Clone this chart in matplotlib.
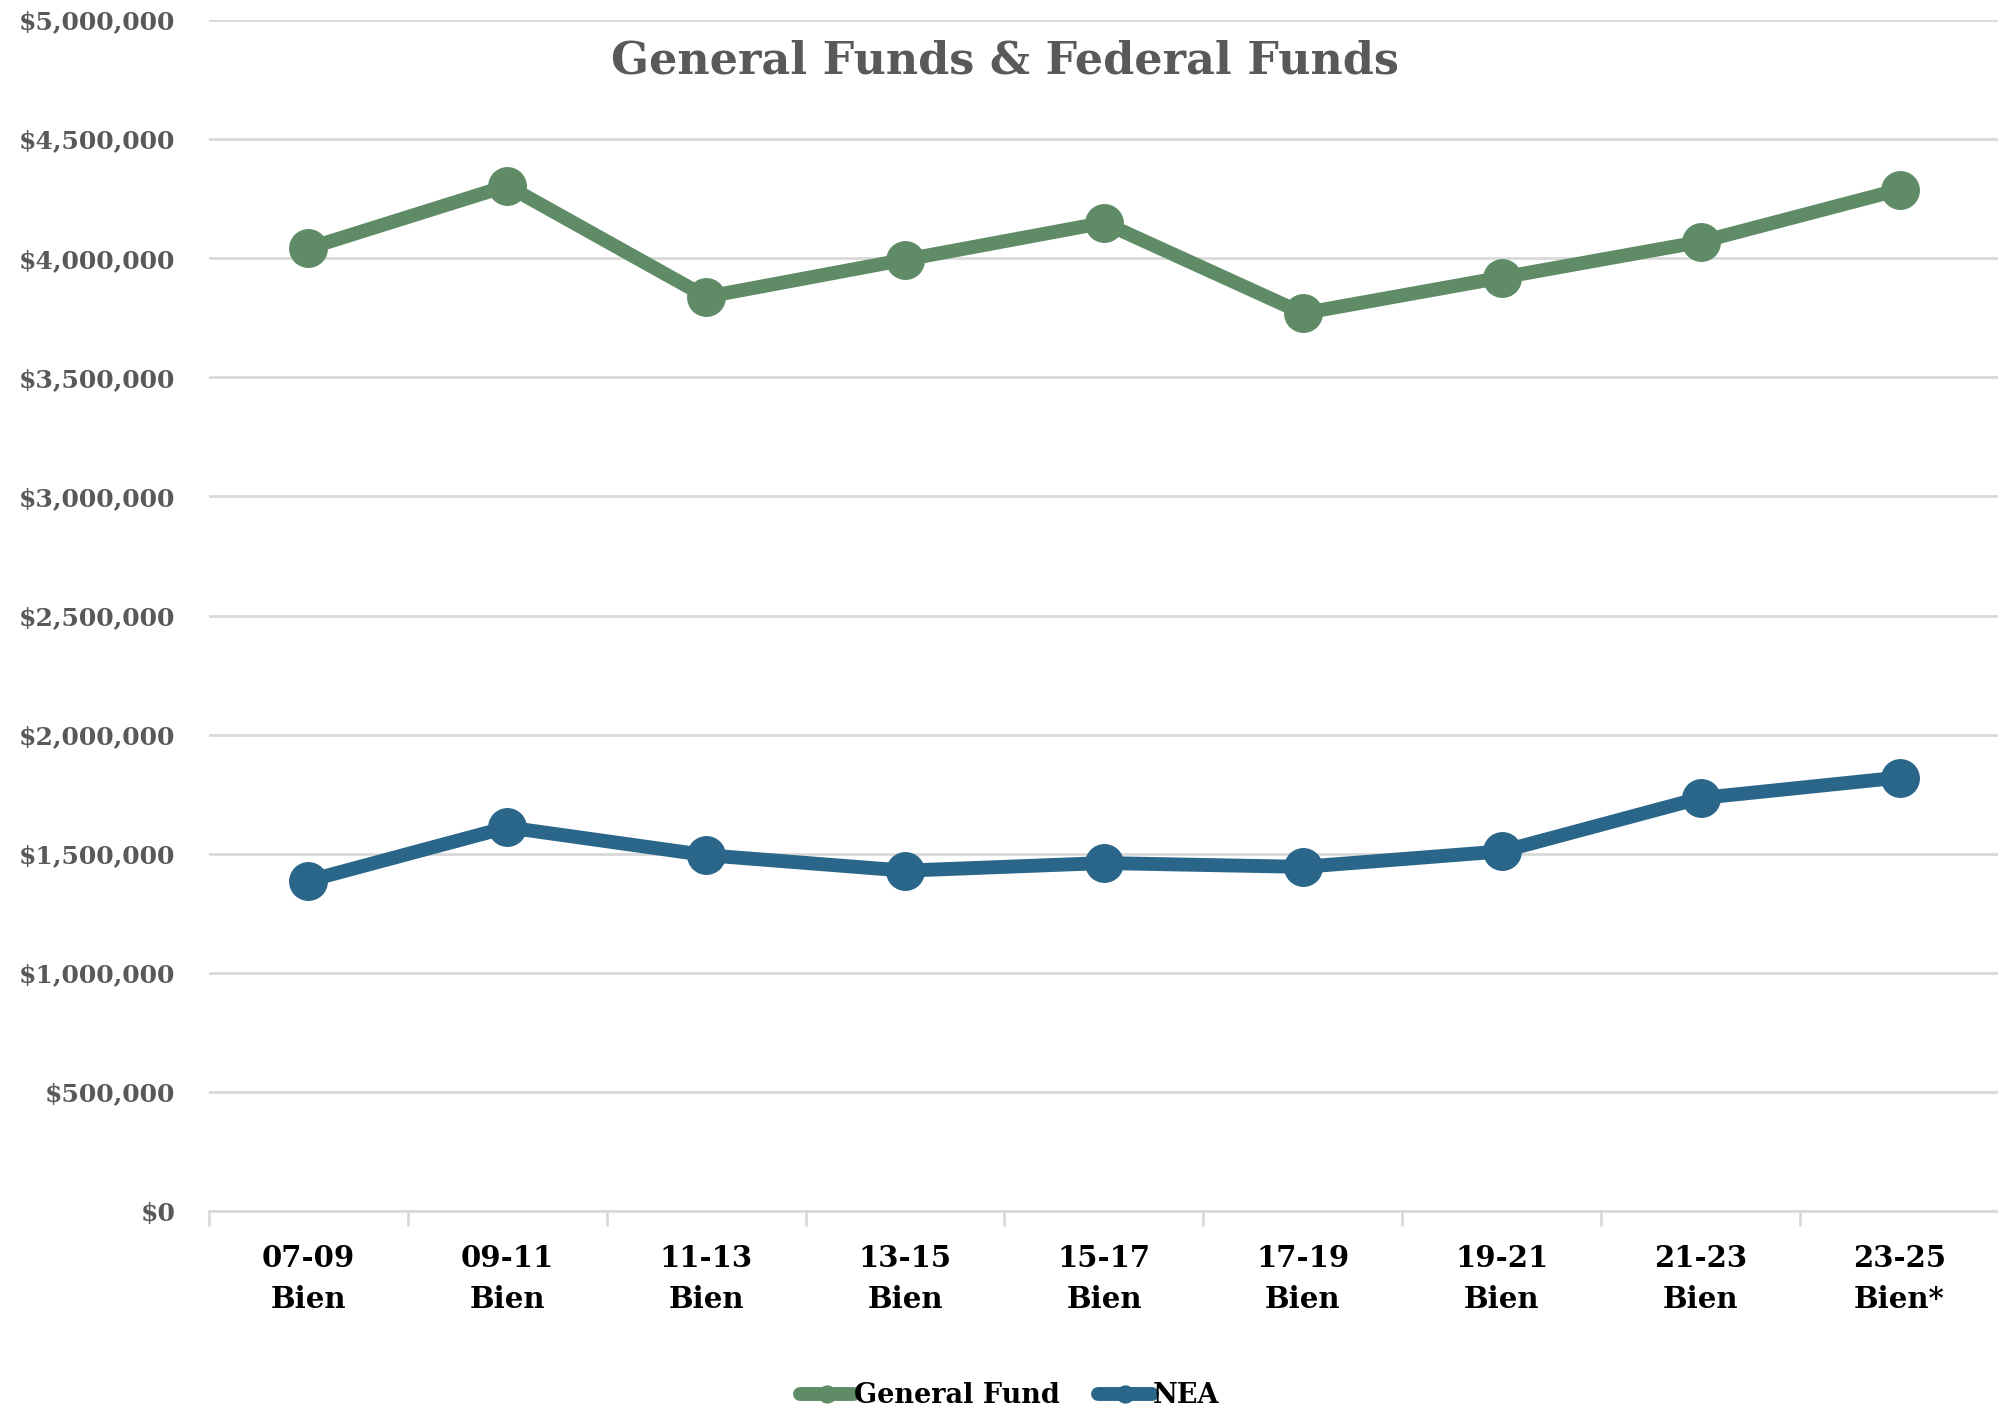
import matplotlib.pyplot as plt
from matplotlib.ticker import FuncFormatter, FixedLocator

# Biennium labels and funding totals (dollars)
periods = ["07-09\nBien", "09-11\nBien", "11-13\nBien", "13-15\nBien", "15-17\nBien",
           "17-19\nBien", "19-21\nBien", "21-23\nBien", "23-25\nBien*"]
general_fund = [4042000, 4304000, 3838000, 3994000, 4149000,
                3769000, 3919000, 4069000, 4288000]
nea = [1387000, 1611000, 1494000, 1429000, 1461000,
       1445000, 1510000, 1734000, 1820000]

GREEN = "#5f8c67"
BLUE = "#2a6689"
GRAY = "#595959"
FONT = "DejaVu Serif"

plt.rcParams["font.family"] = FONT

fig = plt.figure(figsize=(19.99, 14.11), dpi=100)
ax = fig.add_axes([0.1045, 0.1417, 0.8955, 0.8441])

x = list(range(len(periods)))
ax.plot(x, general_fund, color=GREEN, lw=10, marker="o", ms=27,
        solid_capstyle="round", label="General Fund", zorder=3)
ax.plot(x, nea, color=BLUE, lw=10, marker="o", ms=27,
        solid_capstyle="round", label="NEA", zorder=3)

ax.set_xlim(-0.5, len(periods) - 0.5)
ax.set_ylim(0, 5000000)
ax.set_yticks(range(0, 5000001, 500000))
ax.yaxis.set_major_formatter(FuncFormatter(lambda v, p: f"${v:,.0f}"))
ax.grid(axis="y", color="#d9d9d9", lw=2)
ax.set_axisbelow(True)

# category labels centred, tick marks on the category boundaries
ax.set_xticks(x)
ax.set_xticklabels(periods, fontsize=21, fontweight="bold", color="black",
                   linespacing=1.5)
ax.tick_params(axis="x", which="major", length=0, pad=24)
ax.xaxis.set_minor_locator(FixedLocator([i - 0.5 for i in range(len(periods) + 1)]))
ax.tick_params(axis="x", which="minor", length=11, width=2, color="#d9d9d9")
ax.tick_params(axis="y", length=0, pad=24, labelsize=18, labelcolor=GRAY)
for lbl in ax.get_yticklabels():
    lbl.set_fontweight("bold")

for side in ["top", "right", "left"]:
    ax.spines[side].set_visible(False)
ax.spines["bottom"].set_color("#d9d9d9")
ax.spines["bottom"].set_linewidth(2)

fig.text(0.503, 0.957, "General Funds & Federal Funds", ha="center", va="center",
         fontsize=32, fontweight="bold", color=GRAY)

leg = fig.legend(loc="lower center", bbox_to_anchor=(0.505, -0.016), ncol=2,
                 frameon=False, handlelength=2.0, handletextpad=0.0,
                 columnspacing=1.4, markerscale=0.45,
                 prop={"family": FONT, "weight": "bold", "size": 19.5})

fig.savefig("out.png", dpi=100)
